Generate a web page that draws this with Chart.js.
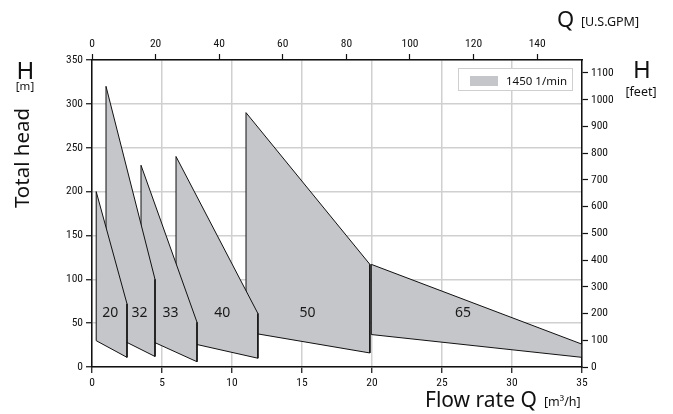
<!DOCTYPE html>
<html><head><meta charset="utf-8">
<script src="https://cdn.jsdelivr.net/npm/chart.js@4.4.0/dist/chart.umd.min.js"></script>
<style>html,body{margin:0;padding:0;background:#fff;}#wrap{width:673px;height:414px;position:relative;}</style>
</head><body><div id="wrap"><canvas id="c" width="673" height="414"></canvas></div>
<script>
// Pump families (DN) and their operating field corners: Q in m3/h, H in m
const pumpNames     = ['20', '32', '33', '40', '50', '65'];
const xLeft         = [0.3, 1.0, 3.5, 6.0, 11.0, 19.95];
const xRight        = [2.5, 4.5, 7.5, 11.85, 19.85, 35.0];
const headTopLeft   = [200, 320, 230, 240, 290, 117];
const headTopRight  = [72, 100, 51, 61, 117, 26];
const headBotRight  = [11, 12, 6, 10, 16, 11];
const headBotLeft   = [30, 40, 35, 31, 40, 37];
const labelX        = [1.3, 3.4, 5.6, 9.3, 15.4, 26.5];
const labelY        = [62, 62, 62, 62, 62, 62];
const legendLabel   = '1450 1/min';

const xTicksM3h  = [0, 5, 10, 15, 20, 25, 30, 35];
const yTicksM    = [0, 50, 100, 150, 200, 250, 300, 350];
const gpmTicks   = [0, 20, 40, 60, 80, 100, 120, 140];
const feetTicks  = [0, 100, 200, 300, 400, 500, 600, 700, 800, 900, 1000, 1100];
const M3H_TO_GPM = 4.40287;
const M_TO_FT    = 3.28084;

const FILL = 'rgb(197,198,202)';
const TICKFONT = "'Liberation Sans Narrow','Roboto Condensed','DejaVu Sans Condensed',sans-serif";
const TITLEFONT = "'Noto Sans','Open Sans',sans-serif";

const datasets = pumpNames.map((n, i) => ({
  label: n,
  data: [
    {x: xLeft[i],  y: headTopLeft[i]},
    {x: xRight[i], y: headTopRight[i]},
    {x: xRight[i], y: headBotRight[i]},
    {x: xLeft[i],  y: headBotLeft[i]},
    {x: xLeft[i],  y: headTopLeft[i]}
  ],
  showLine: true,
  fill: 'shape',
  backgroundColor: FILL,
  borderColor: '#111',
  borderWidth: 1,
  pointRadius: 0,
  tension: 0
}));

const xMin = xTicksM3h[0], xMax = xTicksM3h[xTicksM3h.length - 1];
const yMin = yTicksM[0], yMax = yTicksM[yTicksM.length - 1];

function fit(size) { return function (s) { if (s.isHorizontal()) s.height = size; else s.width = size; }; }
const plain = v => String(v);

const tickCommon = {color: '#111', font: {family: TICKFONT, size: 11.5}, callback: plain};

const textPlugin = {
  id: 'texts',
  afterDatasetsDraw(chart) {
    const ctx = chart.ctx, xs = chart.scales.x, ys = chart.scales.y;
    ctx.save();
    ctx.fillStyle = '#1a1a1a';
    ctx.font = `14px ${TITLEFONT}`;
    ctx.textAlign = 'center';
    ctx.textBaseline = 'middle';
    pumpNames.forEach((n, i) => {
      ctx.fillText(n, xs.getPixelForValue(labelX[i]), ys.getPixelForValue(labelY[i]));
    });
    ctx.restore();
  },
  afterDraw(chart) {
    const ctx = chart.ctx;
    ctx.save();
    ctx.fillStyle = '#111';
    // left titles
    ctx.textAlign = 'center';
    ctx.textBaseline = 'alphabetic';
    ctx.font = `24px ${TITLEFONT}`;
    ctx.fillText('H', 25.5, 79);
    ctx.font = `11.5px ${TITLEFONT}`;
    ctx.fillText('[m]', 25, 90);
    ctx.save();
    ctx.translate(29, 158);
    ctx.rotate(-Math.PI / 2);
    ctx.textAlign = 'center';
    ctx.textBaseline = 'alphabetic';
    ctx.font = `20.5px ${TITLEFONT}`;
    ctx.fillText('Total head', 0, 0);
    ctx.restore();
    // right titles
    ctx.textAlign = 'center';
    ctx.textBaseline = 'alphabetic';
    ctx.font = `24px ${TITLEFONT}`;
    ctx.fillText('H', 642, 78);
    ctx.font = `12.5px ${TITLEFONT}`;
    ctx.fillText('[feet]', 641, 96);
    // bottom title
    ctx.textAlign = 'left';
    ctx.font = `21px ${TITLEFONT}`;
    ctx.fillText('Flow rate Q', 425, 407);
    ctx.font = `12.5px ${TITLEFONT}`;
    ctx.fillText('[m³/h]', 544, 406);
    // top title
    ctx.font = `22px ${TITLEFONT}`;
    ctx.fillText('Q', 557, 27);
    ctx.font = `12.5px ${TITLEFONT}`;
    ctx.fillText('[U.S.GPM]', 581, 26);
    // legend
    const lx = 458, ly = 68, lw = 114, lh = 22;
    ctx.fillStyle = '#fff';
    ctx.fillRect(lx, ly, lw, lh);
    ctx.strokeStyle = '#cfcfcf';
    ctx.lineWidth = 1;
    ctx.strokeRect(lx + 0.5, ly + 0.5, lw, lh);
    ctx.fillStyle = chart.data.datasets[0].backgroundColor;
    ctx.fillRect(470, 76, 28, 10);
    ctx.fillStyle = '#111';
    ctx.textBaseline = 'middle';
    ctx.font = `11.5px ${TITLEFONT}`;
    ctx.fillText(legendLabel, 506, 81.5);
    ctx.restore();
  }
};

new Chart(document.getElementById('c'), {
  type: 'scatter',
  data: {datasets},
  options: {
    responsive: false,
    animation: false,
    layout: {padding: 0},
    plugins: {legend: {display: false}, tooltip: {enabled: false}},
    scales: {
      x: {
        type: 'linear', position: 'bottom', min: xMin, max: xMax,
        afterFit: fit(47),
        afterBuildTicks: s => { s.ticks = xTicksM3h.map(v => ({value: v})); },
        ticks: Object.assign({padding: 3, maxRotation: 0}, tickCommon),
        grid: {color: '#d0d0d0', lineWidth: 1.5, tickColor: '#111', tickLength: 6, tickWidth: 1.2},
        border: {color: '#111', width: 1.5}
      },
      x2: {
        type: 'linear', position: 'top', min: xMin * M3H_TO_GPM, max: xMax * M3H_TO_GPM,
        afterFit: fit(60),
        afterBuildTicks: s => { s.ticks = gpmTicks.map(v => ({value: v})); },
        ticks: Object.assign({padding: 3, maxRotation: 0}, tickCommon),
        grid: {drawOnChartArea: false, tickColor: '#111', tickLength: 6, tickWidth: 1.2},
        border: {color: '#111', width: 1.5}
      },
      y: {
        type: 'linear', position: 'left', min: yMin, max: yMax,
        afterFit: fit(92),
        afterBuildTicks: s => { s.ticks = yTicksM.map(v => ({value: v})); },
        ticks: Object.assign({padding: 3}, tickCommon),
        grid: {color: '#d0d0d0', lineWidth: 1.5, tickColor: '#111', tickLength: 6, tickWidth: 1.2},
        border: {color: '#111', width: 1.5}
      },
      y2: {
        type: 'linear', position: 'right', min: yMin * M_TO_FT, max: yMax * M_TO_FT,
        afterFit: fit(91),
        afterBuildTicks: s => { s.ticks = feetTicks.map(v => ({value: v})); },
        ticks: Object.assign({padding: 3}, tickCommon),
        grid: {drawOnChartArea: false, tickColor: '#111', tickLength: 6, tickWidth: 1.2},
        border: {color: '#111', width: 1.5}
      }
    }
  },
  plugins: [textPlugin]
});
</script></body></html>
